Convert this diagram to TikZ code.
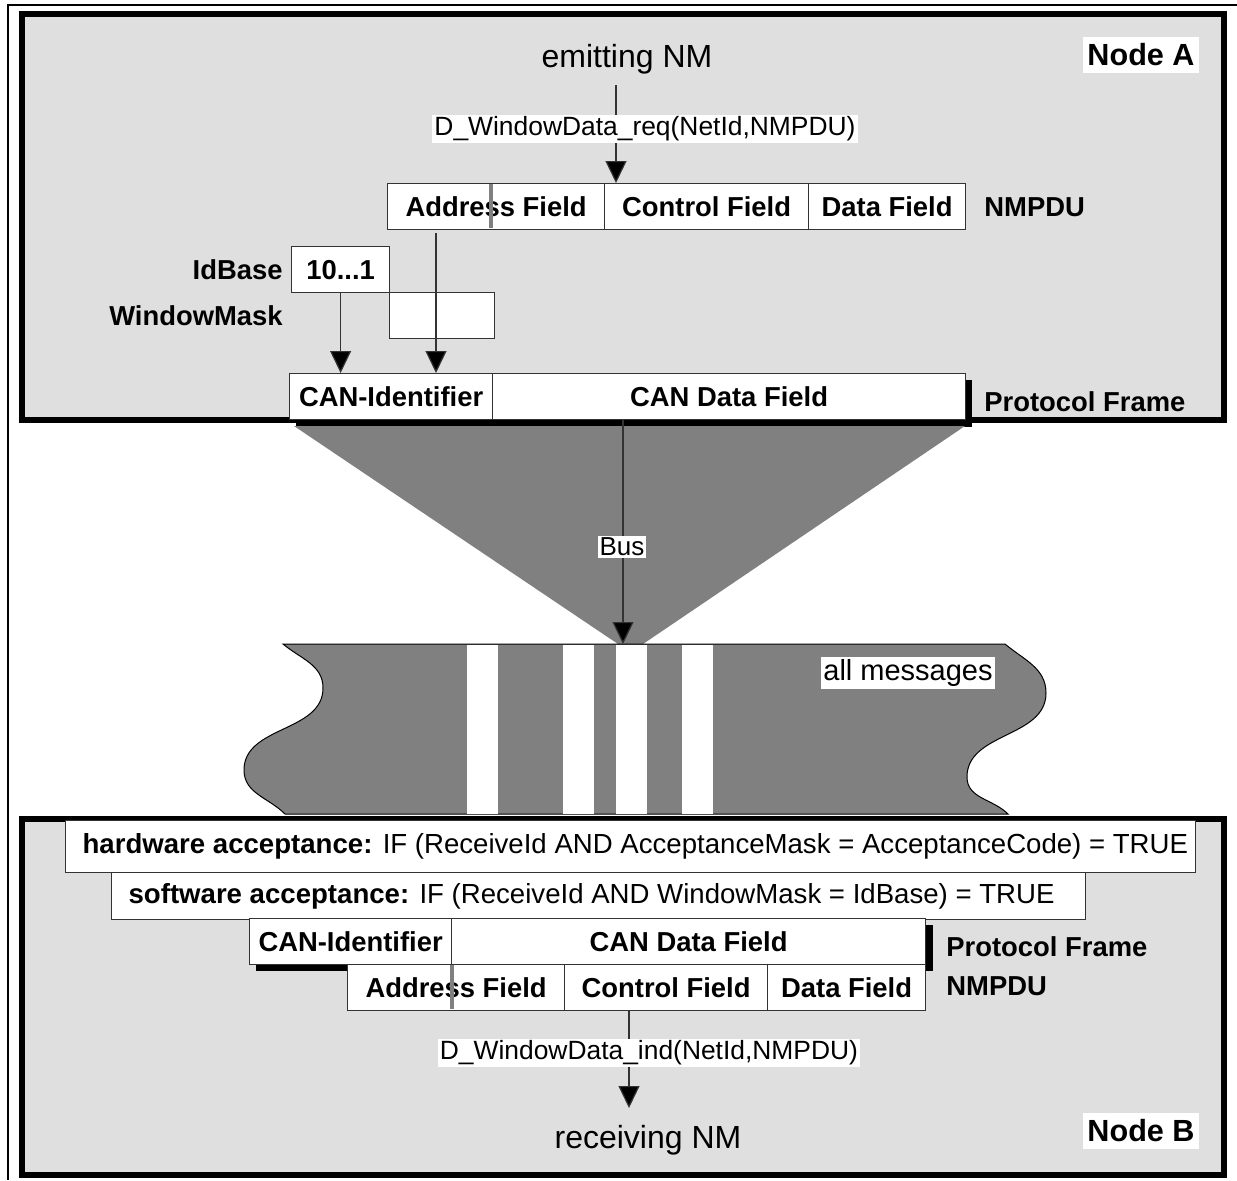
\documentclass[tikz,border=0pt]{standalone}
\usepackage{fontspec}
\setmainfont{Liberation Sans}
\usetikzlibrary{arrows.meta,positioning}
\definecolor{nodebg}{gray}{0.875}
\definecolor{busgray}{gray}{0.5}
\definecolor{edgegray}{gray}{0.2}
\tikzset{
  >={Triangle[length=11pt,width=10.5pt,fill=black]},
  fld/.style={rectangle,draw=edgegray,fill=white,line width=0.6pt,inner sep=0pt,minimum height=23pt,anchor=north west,font=\bfseries\fontsize{13.7}{16}\selectfont},
  cond/.style={rectangle,draw=edgegray,fill=white,line width=0.6pt,inner xsep=8.5pt,inner ysep=0pt,anchor=north west,font=\fontsize{13.8}{17}\selectfont},
  lbl/.style={inner sep=0pt,font=\bfseries\fontsize{13.7}{16}\selectfont},
  tag/.style={fill=white,inner xsep=1pt,inner ysep=1pt,font=\fontsize{13.2}{15}\selectfont},
  nm/.style={inner sep=0pt,font=\fontsize{16}{19}\selectfont},
  hdr/.style={fill=white,inner xsep=2pt,inner ysep=3.5pt,font=\bfseries\fontsize{15.3}{18}\selectfont},
  nodebox/.style={draw,line width=2.6pt,fill=nodebg},
  tr/.style={->,line width=0.6pt,draw=edgegray},
  divider/.style={draw=gray,line width=1.6pt},
}

\begin{document}
\begin{tikzpicture}[x=0.5pt,y=-0.5pt]
    \useasboundingbox (0,0) rectangle (1237,1180);

    % outer frame
    \draw[line width=1pt] (8,1180) -- (8,5) -- (1237,5);

    % NODE A: sender
    \draw[nodebox] (22,14) rectangle (1224,420);
    \node[hdr] (nodeA) at (1141,55) {Node A};
    \node[nm,anchor=base] (emit) at (627,67) {emitting NM};

    % NMPDU of sender
    \node[fld,minimum width=108.5pt] (adrA) at (387,183) {Address Field};
    \node[fld,minimum width=102pt] (ctlA) at (604,183) {Control Field};
    \node[fld,minimum width=78.5pt] (datA) at (808,183) {Data Field};
    \draw[divider] (491,184) -- (491,228);
    \node[lbl,anchor=west] (pduA) at (984,207) {NMPDU};

    \coordinate (reqtop) at (616,85);
    \draw[tr] (reqtop) -- (reqtop |- ctlA.north);
    \node[tag] (req) at (645,129) {D\_WindowData\_req(NetId,NMPDU)};

    % identifier built from IdBase and address
    \node[fld,minimum width=49pt] (idb) at (291,246) {10...1};
    \node[fld,minimum width=52.5pt] (wmask) at (389,292) {};
    \node[lbl,left=4pt of idb] (idbl) {IdBase};
    \node[lbl,anchor=east] (wml) at (idbl.east |- wmask) {WindowMask};

    % protocol frame of sender
    \fill (296,380) rectangle (972,427);
    \node[fld,minimum width=101.5pt] (canidA) at (289,373) {CAN-Identifier};
    \node[fld,minimum width=236.5pt] (candA) at (492,373) {CAN Data Field};
    \node[lbl,anchor=west] (pfA) at (984,402) {Protocol Frame};

    \coordinate (adrbit) at (436,233);
    \draw[tr] (idb.south) -- (idb.south |- canidA.north);
    \draw[tr] (adrbit) -- (adrbit |- canidA.north);

    % BUS
    \fill[busgray] (294,426) -- (965,426) -- (643,644) -- (618,644) -- cycle;
    \draw[fill=busgray,line width=0.5pt] (283,644) -- (1005,644)
        to[out=-40,in=90] (1046,693) to[out=-90,in=90] (967,777)
        to[out=-90,in=135] (1008,814) -- (285,814)
        to[out=135,in=-90] (244,770) to[out=90,in=-90] (323,688)
        to[out=90,in=-40] (283,644) -- cycle;
    \foreach \sx in {467,563,616,682}
        \fill[white] (\sx,645) rectangle ++(31,169);
    \node[tag,font=\fontsize{14.5}{17}\selectfont] (allmsg) at (908,673) {all messages};

    \coordinate (busend) at (623,644);
    \draw[tr] (busend |- candA.south) -- (busend);
    \node[tag,font=\fontsize{13}{15}\selectfont] (bus) at (622,547) {Bus};

    % NODE B: receiver
    \draw[nodebox] (22,819) rectangle (1224,1175);
    \node[hdr] (nodeB) at (1141,1131) {Node B};

    \node[cond,minimum height=26pt] (hw) at (65,820)
        {\makebox[548pt][l]{\textbf{hardware acceptance:} IF (ReceiveId AND AcceptanceMask = AcceptanceCode) = TRUE}};
    \node[cond,minimum height=23.5pt] (sw) at (111,872)
        {\makebox[470pt][l]{\textbf{software acceptance:} IF (ReceiveId AND WindowMask = IdBase) = TRUE}};

    % protocol frame and NMPDU of receiver
    \fill (256,925) rectangle (933,971);
    \node[fld,minimum width=101pt] (canidB) at (249,918) {CAN-Identifier};
    \node[fld,minimum width=237pt] (candB) at (451,918) {CAN Data Field};
    \node[fld,minimum width=108.5pt] (adrB) at (347,964) {Address Field};
    \node[fld,minimum width=101.5pt] (ctlB) at (564,964) {Control Field};
    \node[fld,minimum width=79pt] (datB) at (767,964) {Data Field};
    \draw[divider] (452,965) -- (452,1009);
    \node[lbl,anchor=west] (pfB) at (946,947) {Protocol Frame};
    \node[lbl,anchor=west] (pduB) at (946,986) {NMPDU};

    \coordinate (recv) at (629,1108);
    \draw[tr] (recv |- ctlB.south) -- (recv);
    \node[tag] (ind) at (649,1053) {D\_WindowData\_ind(NetId,NMPDU)};
    \node[nm,anchor=base] (recvnm) at (648,1148) {receiving NM};
\end{tikzpicture}
\end{document}
